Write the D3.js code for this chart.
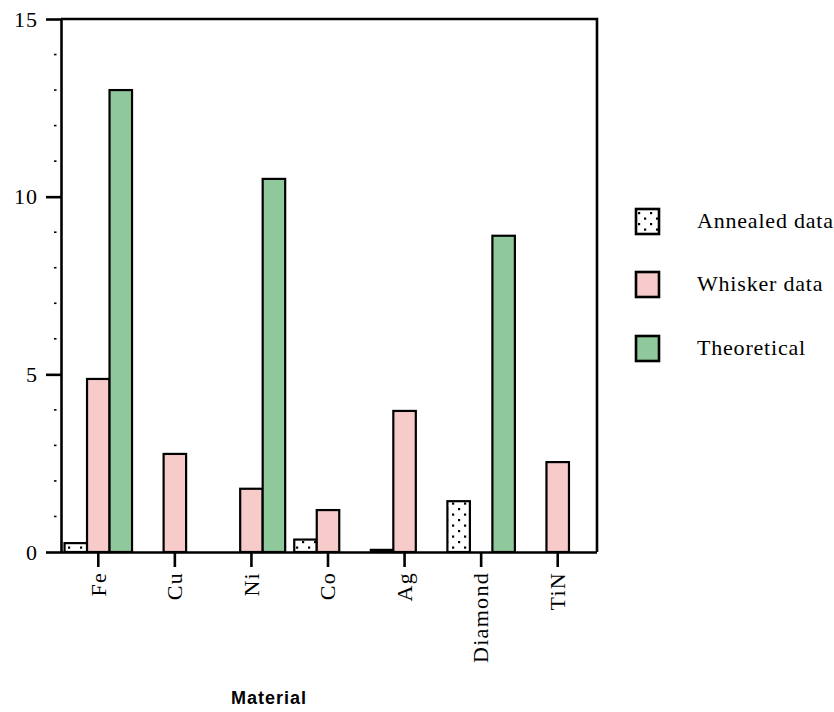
<!DOCTYPE html>
<html>
<head>
<meta charset="utf-8">
<script src="https://cdn.jsdelivr.net/npm/d3@7"></script>
<style>
  html, body { margin: 0; padding: 0; background: #ffffff; }
  svg { display: block; }
</style>
</head>
<body>
<svg id="chart" width="834" height="712"></svg>
<script>
const categories = ["Fe", "Cu", "Ni", "Co", "Ag", "Diamond", "TiN"];
const seriesNames = ["Annealed data", "Whisker data", "Theoretical"];
const annealed = [0.25, 0, 0, 0.35, 0.06, 1.43, 0];
const whisker = [4.87, 2.76, 1.78, 1.18, 3.97, 0, 2.53];
const theoretical = [13.0, 0, 10.5, 0, 0, 8.9, 0];
const yTicks = [0, 5, 10, 15];
const yMinorTicks = [1, 2, 3, 4, 6, 7, 8, 9, 11, 12, 13, 14];
const xTitle = "Material";

(function () {
const seriesValues = [annealed, whisker, theoretical];
const fills = ["url(#dots)", "#f8cbcb", "#8fc99b"];
const serif = "'Liberation Serif', 'Times New Roman', serif";

const svg = d3.select("#chart");
const pLeft = 61, pRight = 597, pTop = 19, pBottom = 552;

const defs = svg.append("defs");
const pat = defs.append("pattern")
  .attr("id", "dots").attr("patternUnits", "userSpaceOnUse")
  .attr("width", 12).attr("height", 11);
pat.append("rect").attr("width", 12).attr("height", 11).attr("fill", "#fff");
pat.append("rect").attr("x", 2).attr("y", 2).attr("width", 2.2).attr("height", 2.2).attr("fill", "#000");
pat.append("rect").attr("x", 8).attr("y", 7.5).attr("width", 2.2).attr("height", 2.2).attr("fill", "#000");

const x0 = d3.scaleBand().domain(categories).range([pLeft - 1, pRight - 1]).padding(0);
const groupW = 67.5;
const x1 = d3.scaleBand().domain(seriesNames)
  .range([(x0.bandwidth() - groupW) / 2, (x0.bandwidth() + groupW) / 2]).padding(0);
const y = d3.scaleLinear().domain([0, 15]).range([pBottom, pTop]);

// bars
const rows = [];
categories.forEach((c, i) => {
  seriesNames.forEach((s, j) => {
    rows.push({ cat: c, series: s, value: seriesValues[j][i], fill: fills[j] });
  });
});
svg.append("g").selectAll("rect")
  .data(rows.filter(d => d.value > 0))
  .join("rect")
  .attr("x", d => x0(d.cat) + x1(d.series))
  .attr("y", d => y(d.value))
  .attr("width", x1.bandwidth())
  .attr("height", d => y(0) - y(d.value))
  .attr("fill", d => d.fill)
  .attr("stroke", "#000")
  .attr("stroke-width", 2.2);

// frame
svg.append("path")
  .attr("d", `M${pLeft},${pTop}H${pRight}V${pBottom}`)
  .attr("fill", "none").attr("stroke", "#000").attr("stroke-width", 2.6);

// y axis
const yAxis = svg.append("g").attr("transform", `translate(${pLeft},0)`)
  .call(d3.axisLeft(y).tickValues(yTicks).tickSize(15).tickSizeOuter(0).tickPadding(8).tickFormat(d3.format("d")));
yAxis.select(".domain").attr("stroke-width", 2.6);
yAxis.selectAll(".tick line").attr("stroke-width", 2.6);
yAxis.selectAll("text").attr("font-family", serif)
  .attr("font-size", 22).attr("letter-spacing", "1px").attr("fill", "#000");

svg.append("g").selectAll("line").data(yMinorTicks).join("line")
  .attr("x1", pLeft - 7).attr("x2", pLeft - 4.5)
  .attr("y1", d => y(d)).attr("y2", d => y(d))
  .attr("stroke", "#000").attr("stroke-width", 1.6);

// x axis
const xAxis = svg.append("g").attr("transform", `translate(0,${pBottom})`)
  .call(d3.axisBottom(x0).tickSize(15).tickSizeOuter(0));
xAxis.select(".domain").attr("stroke-width", 2.6)
  .attr("d", `M${pLeft},0.5H${pRight}`);
xAxis.selectAll(".tick line").attr("stroke-width", 2.6);
xAxis.selectAll("text")
  .attr("font-family", serif)
  .attr("font-size", 22).attr("letter-spacing", "1.3px").attr("fill", "#000")
  .attr("transform", "rotate(-90)")
  .attr("x", -20).attr("y", 0).attr("dy", "0.33em")
  .attr("text-anchor", "end");

// x title
svg.append("text")
  .attr("x", 269).attr("y", 704)
  .attr("text-anchor", "middle")
  .attr("font-family", "'Liberation Sans', Arial, sans-serif")
  .attr("font-weight", "bold").attr("font-size", 18)
  .attr("letter-spacing", "1px")
  .text(xTitle);

// legend
const legendY = [221, 284, 348];
const lg = svg.append("g").selectAll("g").data(seriesNames).join("g")
  .attr("transform", (d, i) => `translate(636,${legendY[i]})`);
lg.append("rect")
  .attr("x", 0).attr("y", -12).attr("width", 23).attr("height", 25)
  .attr("fill", (d, i) => fills[i]).attr("stroke", "#000").attr("stroke-width", 2.6);
lg.append("text")
  .attr("x", 61).attr("y", 0).attr("dy", "0.33em")
  .attr("font-family", serif)
  .attr("font-size", 22).attr("letter-spacing", "0.8px").attr("fill", "#000")
  .text(d => d);
})();
</script>
</body>
</html>
